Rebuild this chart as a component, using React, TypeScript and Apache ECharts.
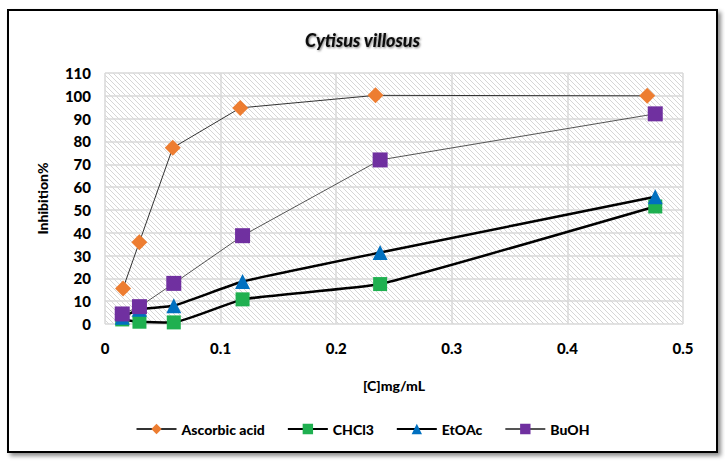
import React, { useEffect, useRef } from "react";
import * as echarts from "echarts";

const seriesNames = ["Ascorbic acid", "CHCl3", "EtOAc", "BuOH"];
const ascorbicX = [0.0156, 0.0297, 0.0586, 0.117, 0.234, 0.469];
const extractX = [0.0149, 0.0298, 0.0595, 0.119, 0.238, 0.476];
const ascorbicY = [15.6, 35.8, 77.2, 94.7, 100.2, 100.0];
const chcl3Y = [2.0, 1.0, 0.7, 10.8, 17.5, 51.5];
const etoacY = [3.0, 6.5, 8.0, 18.6, 31.3, 55.8];
const buohY = [4.4, 7.6, 17.8, 38.7, 71.9, 92.1];
const xTicks = { min: 0, max: 0.5, interval: 0.1 };
const yTicks = { min: 0, max: 110, interval: 10 };

const pair = (xs: number[], ys: number[]) => xs.map((x, i) => [x, ys[i]]);

const TILE = 5;
function makePatternUrl() {
  const c = document.createElement("canvas");
  c.width = TILE;
  c.height = TILE;
  const ctx = c.getContext("2d")!;
  ctx.fillStyle = "#ffffff";
  ctx.fillRect(0, 0, TILE, TILE);
  ctx.fillStyle = "#d6d6d6";
  for (let i = 0; i < TILE; i++) ctx.fillRect(i, i, 1, 1);
  return c.toDataURL("image/png");
}

export default function App() {
  const ref = useRef<HTMLDivElement>(null);
  useEffect(() => {
    const chart = echarts.init(ref.current!, null, { renderer: "svg" });
    const font = "Lato";
    const label = { fontFamily: font, fontWeight: 900 as const, fontSize: 15, color: "#000" };
    chart.setOption({
      animation: false,
      backgroundColor: "#fff",
      graphic: [
        {
          type: "rect",
          z: -10,
          shape: { x: 8, y: 10, width: 709, height: 442 },
          style: {
            fill: "#fff",
            stroke: "#000",
            lineWidth: 2,
            shadowBlur: 4,
            shadowOffsetX: 3,
            shadowOffsetY: 3,
            shadowColor: "rgba(0,0,0,0.45)",
          },
        },
      ],
      title: {
        text: "Cytisus villosus",
        left: "center",
        top: 26,
        textStyle: {
          fontFamily: font,
          fontStyle: "italic",
          fontWeight: 900,
          fontSize: 18,
          color: "#111",
          textShadowColor: "rgba(0,0,0,0.5)",
          textShadowBlur: 2,
          textShadowOffsetX: 1,
          textShadowOffsetY: 1,
        },
      },
      grid: {
        left: 105,
        right: 42,
        top: 73,
        bottom: 139,
        show: true,
        borderWidth: 0,
        backgroundColor: {
          image: makePatternUrl(),
          repeat: "repeat",
          imageWidth: TILE,
          imageHeight: TILE,
        },
      },
      legend: {
        data: seriesNames,
        bottom: 22,
        left: "center",
        itemWidth: 40,
        itemHeight: 13,
        itemGap: 22,
        textStyle: { ...label, fontSize: 14 },
      },
      xAxis: {
        type: "value",
        min: xTicks.min,
        max: xTicks.max,
        interval: xTicks.interval,
        name: "[C]mg/mL",
        nameLocation: "middle",
        nameGap: 54,
        nameTextStyle: { ...label, fontSize: 14 },
        axisLine: { show: false },
        axisTick: { show: false },
        axisLabel: { ...label, margin: 16 },
        splitLine: { show: true, lineStyle: { color: "#d9d9d9", width: 1.5 } },
      },
      yAxis: {
        type: "value",
        min: yTicks.min,
        max: yTicks.max,
        interval: yTicks.interval,
        name: "Inhibition%",
        nameLocation: "middle",
        nameGap: 56,
        nameTextStyle: { ...label, fontSize: 14 },
        axisLine: { show: false },
        axisTick: { show: false },
        axisLabel: { ...label, margin: 14 },
        splitLine: { show: true, lineStyle: { color: "#d9d9d9", width: 1.5 } },
      },
      series: [
        {
          name: seriesNames[0],
          type: "line",
          data: pair(ascorbicX, ascorbicY),
          symbol: "diamond",
          symbolSize: [16, 16],
          itemStyle: { color: "#ED7D31" },
          lineStyle: { color: "#333", width: 1 },
        },
        {
          name: seriesNames[1],
          type: "line",
          data: pair(extractX, chcl3Y),
          symbol: "rect",
          symbolSize: 14,
          smooth: 0.12,
          itemStyle: { color: "#1FB050" },
          lineStyle: { color: "#000", width: 2.5 },
        },
        {
          name: seriesNames[2],
          type: "line",
          data: pair(extractX, etoacY),
          symbol: "triangle",
          symbolSize: 15,
          smooth: 0.12,
          itemStyle: { color: "#0070C0" },
          lineStyle: { color: "#000", width: 2.5 },
        },
        {
          name: seriesNames[3],
          type: "line",
          data: pair(extractX, buohY),
          symbol: "rect",
          symbolSize: 15,
          itemStyle: { color: "#7030A0" },
          lineStyle: { color: "#555", width: 1 },
        },
      ],
    });
    return () => chart.dispose();
  }, []);
  return (
    <div
      ref={ref}
      style={{ position: "fixed", left: 0, top: 0, width: 725, height: 463 }}
    />
  );
}
